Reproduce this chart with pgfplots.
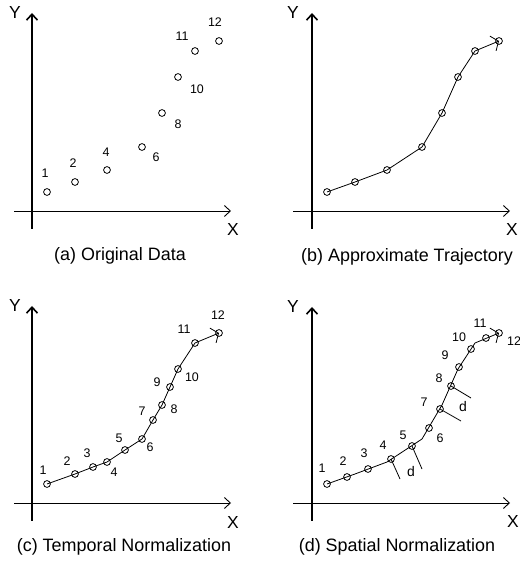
\documentclass[border=0pt]{standalone}
\usepackage{pgfplots}
\pgfplotsset{compat=1.18}
\usepackage{pgfplotstable}
\usetikzlibrary{arrows.meta}
\usepackage{fontspec}
\setmainfont{Liberation Sans}

\pgfplotstableread{
x y
15 19
43 29
75 41
110 64
130 98
146 134
163 160
187 170
}\orig

\pgfplotstableread{
x y
15 19
43 29
61 36
75 41
93 53
110 64
121 83
130 98
138 116
146 134
163 160
187 170
}\temporal

\pgfplotstableread{
x y
15 19
35 26
56 34
79 44
100 57
117 75
128 94
139 117
147 136
159 154
174 165
187 170
}\spatial

\pgfplotsset{
  mypanel/.style={scale only axis, axis lines=none, x=1bp, y=1bp, clip=false, anchor=south west},
  myyax/.style={black, line width=1.6bp, mark=none, -{Straight Barb[length=6bp,width=11bp]}},
  myxax/.style={black, line width=0.9bp, mark=none, -{Straight Barb[length=6bp,width=11bp]}},
  mytraj/.style={black, line width=0.8bp, mark=none},
  mytrajarrow/.style={black, line width=0.8bp, mark=none, -{Straight Barb[length=6bp,width=16bp]}},
  mycirc/.style={black, only marks, mark=o, mark size=3.4bp, mark options={line width=0.8bp}},
}
\tikzset{
  mynum/.style={font=\fontsize{12.5}{13}\selectfont, inner sep=0pt},
  myaxl/.style={font=\fontsize{17.5}{18}\selectfont, inner sep=0pt},
  mycap/.style={font=\fontsize{18}{19}\selectfont, inner sep=0pt},
  mydl/.style={font=\fontsize{14}{15}\selectfont, inner sep=0pt},
}

\begin{document}
\begin{tikzpicture}
\path[use as bounding box] (0,0) rectangle (520bp,568bp);

% (a)
\begin{axis}[mypanel, at={(0bp,284bp)}, xmin=-32, xmax=228, ymin=-73, ymax=211]
\addplot[myyax] coordinates {(0,-18) (0,198)};
\addplot[myxax] coordinates {(-18,0) (199,0)};
\addplot[mycirc] table {\orig};
\node[myaxl] at (axis cs:-17,198) {Y};
\node[myaxl] at (axis cs:201,-19) {X};
\node[mycap] at (axis cs:88,-45) {(a) Original Data};
\node[mynum] at (axis cs:13,38) {1};
\node[mynum] at (axis cs:41,48) {2};
\node[mynum] at (axis cs:74,59) {4};
\node[mynum] at (axis cs:124,54) {6};
\node[mynum] at (axis cs:146,87) {8};
\node[mynum] at (axis cs:165,122) {10};
\node[mynum] at (axis cs:150,175) {11};
\node[mynum] at (axis cs:183,189) {12};
\end{axis}

% (b)
\begin{axis}[mypanel, at={(260bp,284bp)}, xmin=-52, xmax=208, ymin=-73, ymax=211]
\addplot[myyax] coordinates {(0,-18) (0,198)};
\addplot[myxax] coordinates {(-19,0) (198,0)};
\addplot[mytrajarrow] table {\orig};
\addplot[mycirc] table {\orig};
\node[myaxl] at (axis cs:-19,198) {Y};
\node[myaxl] at (axis cs:200,-19) {X};
\node[mycap] at (axis cs:95,-46) {(b) Approximate Trajectory};
\end{axis}

% (c)
\begin{axis}[mypanel, at={(0bp,0bp)}, xmin=-32, xmax=228, ymin=-65, ymax=219]
\addplot[myyax] coordinates {(0,-18) (0,197)};
\addplot[myxax] coordinates {(-18,0) (199,0)};
\addplot[mytrajarrow] table {\temporal};
\addplot[mycirc] table {\temporal};
\node[myaxl] at (axis cs:-17,197) {Y};
\node[myaxl] at (axis cs:201,-20) {X};
\node[mycap] at (axis cs:92,-44) {(c) Temporal Normalization};
\node[mynum] at (axis cs:11,33) {1};
\node[mynum] at (axis cs:35,42) {2};
\node[mynum] at (axis cs:55,50) {3};
\node[mynum] at (axis cs:82,31) {4};
\node[mynum] at (axis cs:87,65) {5};
\node[mynum] at (axis cs:118,56) {6};
\node[mynum] at (axis cs:110,92) {7};
\node[mynum] at (axis cs:142,94) {8};
\node[mynum] at (axis cs:125,121) {9};
\node[mynum] at (axis cs:160,126) {10};
\node[mynum] at (axis cs:152,174) {11};
\node[mynum] at (axis cs:186,188) {12};
\end{axis}

% (d)
\begin{axis}[mypanel, at={(260bp,0bp)}, xmin=-52, xmax=208, ymin=-65, ymax=219]
\addplot[myyax] coordinates {(0,-18) (0,196)};
\addplot[myxax] coordinates {(-19,0) (198,0)};
\addplot[mytrajarrow] table {\orig};
\addplot[mycirc] table {\spatial};
\addplot[mytraj] coordinates {(79,44) (88,24)};
\addplot[mytraj] coordinates {(100,57) (110,34)};
\addplot[mytraj] coordinates {(128,94) (149,82)};
\addplot[mytraj] coordinates {(139,117) (159,105)};
\node[mydl] at (axis cs:99,31) {d};
\node[mydl] at (axis cs:151,96) {d};
\node[myaxl] at (axis cs:-19,196) {Y};
\node[myaxl] at (axis cs:201,-19) {X};
\node[mycap] at (axis cs:85,-44) {(d) Spatial Normalization};
\node[mynum] at (axis cs:10,35) {1};
\node[mynum] at (axis cs:31,42) {2};
\node[mynum] at (axis cs:52,50) {3};
\node[mynum] at (axis cs:71,58) {4};
\node[mynum] at (axis cs:91,68) {5};
\node[mynum] at (axis cs:128,65) {6};
\node[mynum] at (axis cs:112,101) {7};
\node[mynum] at (axis cs:127,125) {8};
\node[mynum] at (axis cs:133,148) {9};
\node[mynum] at (axis cs:147,166) {10};
\node[mynum] at (axis cs:168,180) {11};
\node[mynum] at (axis cs:202,162) {12};
\end{axis}
\end{tikzpicture}
\end{document}
